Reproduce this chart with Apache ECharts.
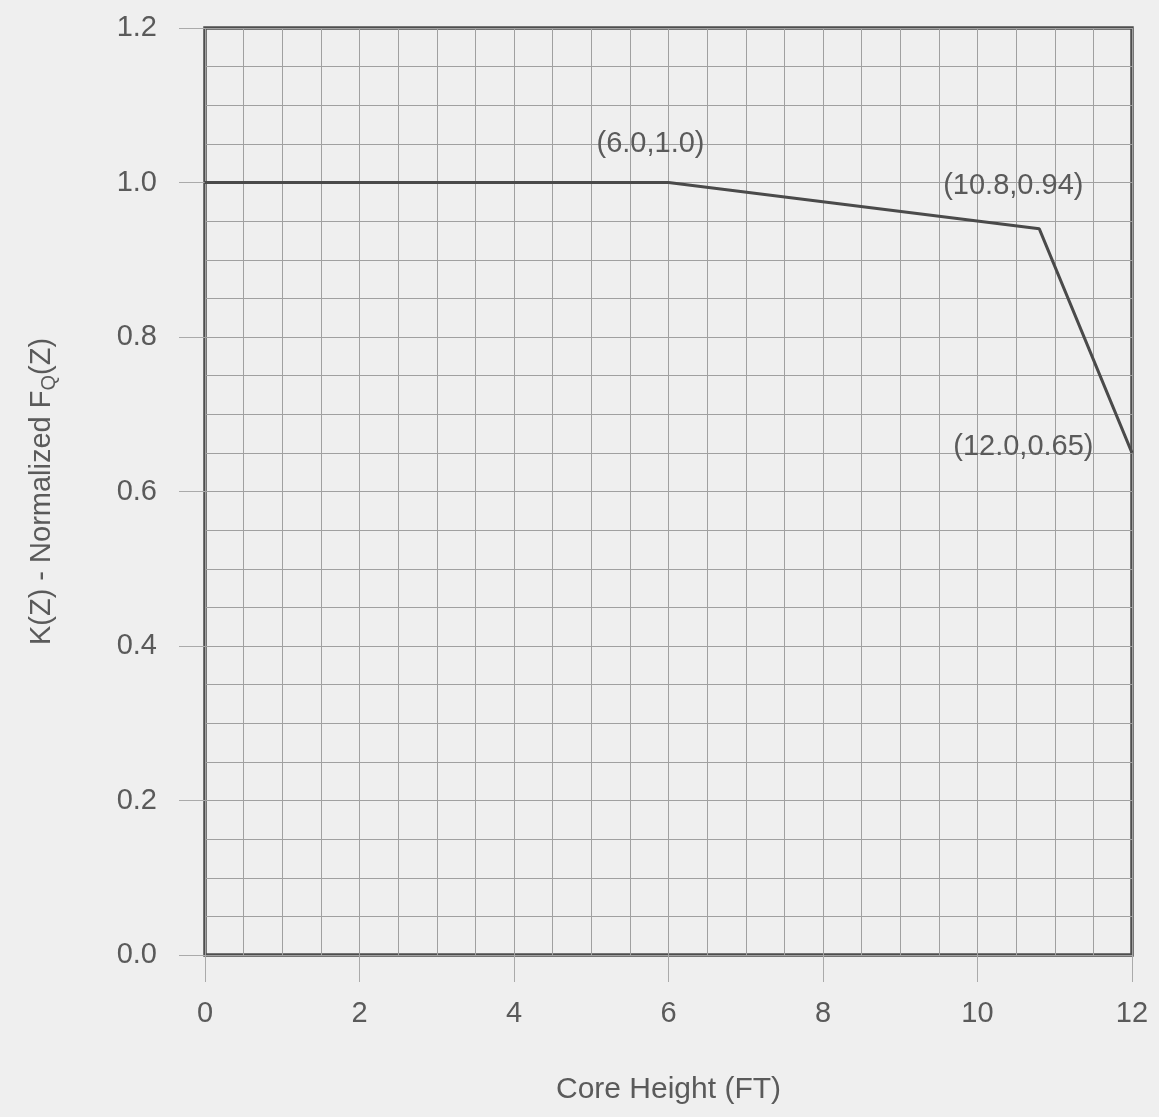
<!DOCTYPE html>
<html>
<head>
<meta charset="utf-8">
<script src="https://cdn.jsdelivr.net/npm/echarts@6/dist/echarts.min.js"></script>
<style>
  html, body { margin: 0; padding: 0; background: #efefef; }
  #main { width: 1159px; height: 1117px; }
</style>
</head>
<body>
<div id="main"></div>
<script>
// K(Z) curve points
var coreHeight = [0, 6.0, 10.8, 12.0];
var kValue = [1.0, 1.0, 0.94, 0.65];
var pointLabels = ['', '(6.0,1.0)', '(10.8,0.94)', '(12.0,0.65)'];

var font = "'Liberation Sans Narrow', 'Liberation Sans', Arial, sans-serif";
var txt = '#5a5a5a';

var labelSpots = [
  null,
  { position: 'top', distance: 24, offset: [-18, 0] },
  { position: 'top', distance: 20, offset: [-26, -8] },
  { position: 'left', distance: 38, offset: [0, -6] }
];

var pts = coreHeight.map(function (x, i) {
  var item = { value: [x, kValue[i]] };
  if (labelSpots[i]) {
    item.label = Object.assign({ show: true, formatter: pointLabels[i] }, labelSpots[i]);
  }
  return item;
});

var chart = echarts.init(document.getElementById('main'));
chart.setOption({
  backgroundColor: '#efefef',
  animation: false,
  grid: {
    left: 205, right: 27, top: 28, bottom: 162,
    show: true, borderColor: '#4d4d4d', borderWidth: 3.5, backgroundColor: 'transparent'
  },
  xAxis: {
    type: 'value', min: 0, max: 12, interval: 2,
    name: 'Core Height (FT)', nameLocation: 'middle', nameGap: 120,
    nameTextStyle: { fontFamily: font, fontSize: 30, color: txt },
    axisLine: { show: false },
    axisTick: { show: true, length: 27, lineStyle: { color: '#aaa', width: 1 } },
    axisLabel: { margin: 44, fontFamily: font, fontSize: 29, color: txt },
    splitLine: { show: true, lineStyle: { color: '#a0a0a0', width: 1 } },
    minorTick: { show: false, splitNumber: 4 },
    minorSplitLine: { show: true, lineStyle: { color: '#a0a0a0', width: 1 } }
  },
  yAxis: {
    type: 'value', min: 0, max: 1.2, interval: 0.2,
    name: 'K(Z) - Normalized F{sub|Q}(Z)', nameLocation: 'middle', nameGap: 146,
    nameTextStyle: {
      fontFamily: font, fontSize: 29, color: txt,
      rich: { sub: { fontFamily: font, fontSize: 20, color: txt, verticalAlign: 'bottom', padding: [14, 0, 0, 0] } }
    },
    axisLine: { show: false },
    axisTick: { show: true, length: 26, lineStyle: { color: '#aaa', width: 1 } },
    axisLabel: {
      margin: 48, fontFamily: font, fontSize: 29, color: txt,
      formatter: function (v) { return v.toFixed(1); }
    },
    splitLine: { show: true, lineStyle: { color: '#a0a0a0', width: 1 } },
    minorTick: { show: false, splitNumber: 4 },
    minorSplitLine: { show: true, lineStyle: { color: '#a0a0a0', width: 1 } }
  },
  series: [{
    type: 'line',
    data: pts,
    symbol: 'circle', symbolSize: 1,
    itemStyle: { color: '#4a4a4a' },
    lineStyle: { color: '#4a4a4a', width: 3 },
    label: { show: false, fontFamily: font, fontSize: 29, color: txt }
  }]
});
</script>
</body>
</html>
